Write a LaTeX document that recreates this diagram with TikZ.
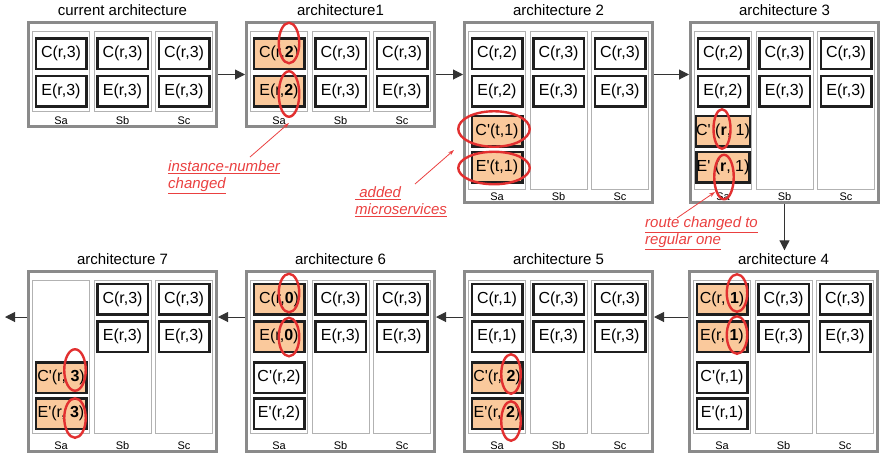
\documentclass[tikz,border=0pt]{standalone}
\usepackage{fontspec}
\setmainfont{Liberation Sans}
\usetikzlibrary{arrows.meta,shapes.geometric}

\definecolor{framegray}{RGB}{138,138,138}
\definecolor{colgray}{RGB}{178,178,178}
\definecolor{svcorange}{RGB}{250,201,156}
\definecolor{ringred}{RGB}{226,48,48}
\definecolor{notered}{RGB}{234,64,64}

% straight apostrophe for the primed services
\newcommand\qt{\textquotesingle}

% one architecture panel: name, left, top, height, title, column bottom inset
\newcommand\archpanel[6]{%
  \node[archframe, minimum height={#4pt-3.2pt}] (#1) at ({#2+95.5},{#3+#4/2}) {};
  \node[archtitle] (#1-title) at ({#2+95.5},{#3-11}) {#5};
  \foreach \col/\dx in {Sa/34,Sb/95.5,Sc/157}{
    \node[column, minimum height={(#4-11-#6)*1pt}] (#1-\col) at ({#2+\dx},{#3+10+(#4-10-#6)/2}) {};
    \node[collabel] (#1-\col-name) at ({#2+\dx},{#3+#4-7}) {\col};
  }%
}

\begin{document}
\begin{tikzpicture}[x=1pt,y=-1pt,
  archframe/.style={draw=framegray, line width=3.2pt, minimum width=187.8pt, inner sep=0pt, fill=white},
  column/.style={draw=colgray, line width=0.9pt, minimum width=57pt, inner sep=0pt},
  archtitle/.style={font=\fontsize{15}{17}\selectfont, inner sep=0pt},
  collabel/.style={font=\fontsize{11}{13}\selectfont, inner sep=0pt},
  svc/.style={draw=black!88, line width=2.5pt, minimum width=50.5pt, minimum height=30.5pt,
              inner sep=0pt, fill=white, font=\fontsize{16}{18}\selectfont},
  changed/.style={svc, fill=svcorange},
  redring/.style={ellipse, draw=ringred, line width=2.4pt, inner sep=0pt},
  note/.style={text=notered, font=\fontsize{15}{17}\selectfont\itshape, align=left, inner sep=0pt},
  notearrow/.style={draw=notered, line width=0.8pt, -{Stealth[length=6pt,width=4pt]}},
  flow/.style={draw=black!80, line width=1pt, -{Triangle[length=10pt,width=10pt]}}
]
\useasboundingbox (0,0) rectangle (882,459);

% row heights of the service boxes
\coordinate (t-C) at (0,53.5);  \coordinate (t-E) at (0,91);
\coordinate (t-Cp) at (0,131);  \coordinate (t-Ep) at (0,167);
\coordinate (b-C) at (0,299);   \coordinate (b-E) at (0,336.5);
\coordinate (b-Cp) at (0,377.5);\coordinate (b-Ep) at (0,413.5);

% panels
\archpanel{f0}{27}{21}{107}{current architecture}{16}
\archpanel{f1}{245}{21}{107}{architecture1}{16}
\archpanel{f2}{463}{21}{183}{architecture 2}{14}
\archpanel{f3}{689}{21}{183}{architecture 3}{14}
\archpanel{f4}{688}{270}{183}{architecture 4}{19}
\archpanel{f5}{463}{270}{183}{architecture 5}{19}
\archpanel{f6}{245}{270}{183}{architecture 6}{19}
\archpanel{f7}{27}{270}{183}{architecture 7}{19}

% unchanged services on servers Sb and Sc
\foreach \f/\row in {f0/t,f1/t,f2/t,f3/t,f4/b,f5/b,f6/b,f7/b}{
  \foreach \col in {Sb,Sc}{
    \node[svc] (\f-\col-C) at (\f-\col |- \row-C) {C(r,3)};
    \node[svc] (\f-\col-E) at (\f-\col |- \row-E) {E(r,3)};
  }
}

% server Sa
\node[svc] (f0-Sa-C) at (f0-Sa |- t-C) {C(r,3)};
\node[svc] (f0-Sa-E) at (f0-Sa |- t-E) {E(r,3)};

\node[changed] (f1-Sa-C) at (f1-Sa |- t-C) {C(r,\textbf{2})};
\node[changed] (f1-Sa-E) at (f1-Sa |- t-E) {E(r,\textbf{2})};

\node[svc] (f2-Sa-C) at (f2-Sa |- t-C) {C(r,2)};
\node[svc] (f2-Sa-E) at (f2-Sa |- t-E) {E(r,2)};
\node[changed] (f2-Sa-Cp) at (f2-Sa |- t-Cp) {C\qt(t,1)};
\node[changed] (f2-Sa-Ep) at (f2-Sa |- t-Ep) {E\qt(t,1)};

\node[svc] (f3-Sa-C) at (f3-Sa |- t-C) {C(r,2)};
\node[svc] (f3-Sa-E) at (f3-Sa |- t-E) {E(r,2)};
\node[changed] (f3-Sa-Cp) at (f3-Sa |- t-Cp) {C\qt\ (\textbf{r}, 1)};
\node[changed] (f3-Sa-Ep) at (f3-Sa |- t-Ep) {E\qt\ (\textbf{r}, 1)};

\node[changed] (f4-Sa-C) at (f4-Sa |- b-C) {C(r, \textbf{1})};
\node[changed] (f4-Sa-E) at (f4-Sa |- b-E) {E(r, \textbf{1})};
\node[svc] (f4-Sa-Cp) at (f4-Sa |- b-Cp) {C\qt(r,1)};
\node[svc] (f4-Sa-Ep) at (f4-Sa |- b-Ep) {E\qt(r,1)};

\node[svc] (f5-Sa-C) at (f5-Sa |- b-C) {C(r,1)};
\node[svc] (f5-Sa-E) at (f5-Sa |- b-E) {E(r,1)};
\node[changed] (f5-Sa-Cp) at (f5-Sa |- b-Cp) {C\qt(r, \textbf{2})};
\node[changed] (f5-Sa-Ep) at (f5-Sa |- b-Ep) {E\qt(r, \textbf{2})};

\node[changed] (f6-Sa-C) at (f6-Sa |- b-C) {C(r,\textbf{0})};
\node[changed] (f6-Sa-E) at (f6-Sa |- b-E) {E(r,\textbf{0})};
\node[svc] (f6-Sa-Cp) at (f6-Sa |- b-Cp) {C\qt(r,2)};
\node[svc] (f6-Sa-Ep) at (f6-Sa |- b-Ep) {E\qt(r,2)};

\node[changed] (f7-Sa-Cp) at (f7-Sa |- b-Cp) {C\qt(r, \textbf{3})};
\node[changed] (f7-Sa-Ep) at (f7-Sa |- b-Ep) {E\qt(r, \textbf{3})};

% red rings marking what changed
\node[redring, minimum width=20.5pt, minimum height=40.5pt] (f1-ring1) at (289,43) {};
\node[redring, minimum width=20.5pt, minimum height=45.5pt] (f1-ring2) at (289,94) {};
\node[redring, minimum width=71.5pt, minimum height=35.5pt] (f2-ring1) at (494,129) {};
\node[redring, minimum width=71.5pt, minimum height=32.5pt] (f2-ring2) at (494,168) {};
\node[redring, minimum width=17pt, minimum height=39.5pt] (f3-ring1) at (722,129) {};
\node[redring, minimum width=19.5pt, minimum height=44.5pt] (f3-ring2) at (724,177) {};
\node[redring, minimum width=20.5pt, minimum height=37.5pt] (f4-ring1) at (737,293) {};
\node[redring, minimum width=20.5pt, minimum height=37.5pt] (f4-ring2) at (737,335) {};
\node[redring, minimum width=19.5pt, minimum height=39.5pt] (f5-ring1) at (511,374) {};
\node[redring, minimum width=19.5pt, minimum height=39.5pt] (f5-ring2) at (511,421) {};
\node[redring, minimum width=20.5pt, minimum height=38.5pt] (f6-ring1) at (289,293) {};
\node[redring, minimum width=20.5pt, minimum height=38.5pt] (f6-ring2) at (289,337) {};
\node[redring, minimum width=21.5pt, minimum height=41.5pt] (f7-ring1) at (75,370) {};
\node[redring, minimum width=21.5pt, minimum height=39.5pt] (f7-ring2) at (75,418) {};

% evolution arrows
\coordinate (lowflow) at (0,317);
\coordinate (exit) at (5,317);
\draw[flow] (f0.east) -- (f1.west);
\draw[flow] (f1.east) -- (f2.west |- f1.east);
\draw[flow] (f2.east |- f1.east) -- (f3.west |- f1.east);
\draw[flow, shorten >=3pt] (f3.south) -- (f3.south |- f4-title.north);
\draw[flow] (f4.west |- lowflow) -- (f5.east |- lowflow);
\draw[flow] (f5.west |- lowflow) -- (f6.east |- lowflow);
\draw[flow] (f6.west |- lowflow) -- (f7.east |- lowflow);
\draw[flow] (f7.west |- lowflow) -- (exit);

% annotations
\node[note, anchor=west] (note1) at (168,177) {\underline{instance-number}\\\underline{changed}};
\node[note, anchor=west] (note2) at (355,202) {\underline{\ added}\\\underline{microservices}};
\node[note, anchor=west] (note3) at (645,233) {\underline{route changed to}\\\underline{regular one}};

\coordinate (n1tail) at (250,157); \coordinate (n1tip) at (289,123);
\coordinate (n2tail) at (415,184); \coordinate (n2tip) at (454,150);
\coordinate (n3tail) at (677,218); \coordinate (n3tip) at (715,192);
\draw[notearrow] (n1tail) -- (n1tip);
\draw[notearrow] (n2tail) -- (n2tip);
\draw[notearrow] (n3tail) -- (n3tip);
\end{tikzpicture}
\end{document}
